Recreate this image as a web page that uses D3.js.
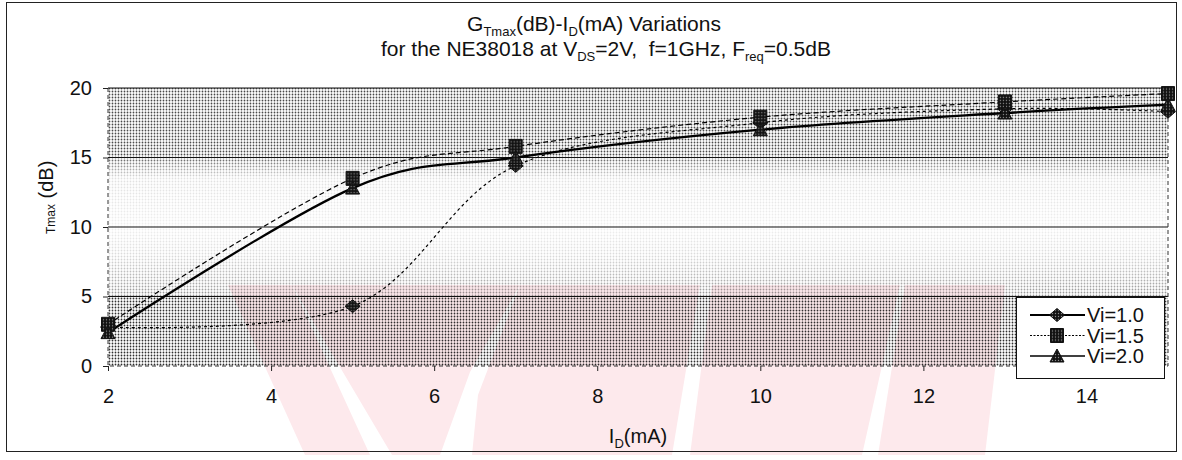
<!DOCTYPE html>
<html>
<head>
<meta charset="utf-8">
<script src="https://cdn.jsdelivr.net/npm/d3@7"></script>
<style>
  html, body { margin: 0; padding: 0; background: #fff; }
  svg { display: block; font-family: Arial, "Liberation Sans", sans-serif; }
</style>
</head>
<body>
<svg id="chart" width="1182" height="460"></svg>
<script>
// Drain current I_D (mA) at which the gain was evaluated
const currents = [2, 5, 7, 10, 13, 15];
// G_Tmax (dB) for each input voltage setting
const gainVi10 = [2.8, 4.3, 14.4, 17.5, 18.5, 18.3];
const gainVi15 = [3.0, 13.5, 15.8, 17.9, 19.0, 19.6];
const gainVi20 = [2.4, 12.8, 15.0, 17.0, 18.2, 18.8];
const seriesNames = ["Vi=1.0", "Vi=1.5", "Vi=2.0"];
const xTicks = [2, 4, 6, 8, 10, 12, 14];
const yTicks = [0, 5, 10, 15, 20];

const svg = d3.select("#chart");
const plot = { left: 108, right: 1168, top: 88, bottom: 366 };

const x = d3.scaleLinear().domain([2, 15]).range([plot.left, plot.right]);
const y = d3.scaleLinear().domain([0, 20]).range([plot.bottom, plot.top]);

const defs = svg.append("defs");

// halftone dots used for the plot-area shading
const dots = defs.append("pattern").attr("id", "halftone")
  .attr("patternUnits", "userSpaceOnUse").attr("width", 3).attr("height", 3);
dots.append("circle").attr("cx", 1.5).attr("cy", 1.5).attr("r", 0.9).attr("fill", "#000");

// density of the shading from top (20 dB) to bottom (0 dB)
const density = [
  [20, 0.72], [15.2, 0.7], [14.5, 0.45], [13.5, 0.12], [10, 0.06],
  [8, 0.14], [6, 0.32], [5.05, 0.42], [4.95, 0.8], [0, 0.82]
];
const grad = defs.append("linearGradient").attr("id", "densityGrad")
  .attr("x1", 0).attr("y1", 0).attr("x2", 0).attr("y2", 1);
density.forEach(([v, a]) => {
  grad.append("stop").attr("offset", (20 - v) / 20)
    .attr("stop-color", "#fff").attr("stop-opacity", a);
});
const mask = defs.append("mask").attr("id", "densityMask")
  .attr("maskUnits", "userSpaceOnUse");
mask.append("rect").attr("x", plot.left).attr("y", plot.top)
  .attr("width", plot.right - plot.left).attr("height", plot.bottom - plot.top)
  .attr("fill", "url(#densityGrad)");

// dark speckled fill for the markers
const mt = defs.append("pattern").attr("id", "markTex")
  .attr("patternUnits", "userSpaceOnUse").attr("width", 3).attr("height", 3);
mt.append("rect").attr("width", 3).attr("height", 3).attr("fill", "#111");
mt.append("circle").attr("cx", 1.5).attr("cy", 1.5).attr("r", 0.7).attr("fill", "#8a8a8a");

// faint pink watermark stripes behind the chart
const pink = "#fde9ec";
const wm = svg.append("g").attr("class", "watermark");
const wmShapes = [
  [[228, 285], [292, 285], [370, 455], [305, 455]],
  [[292, 285], [520, 285], [470, 372], [440, 455], [392, 455], [318, 330]],
  [[520, 285], [700, 285], [672, 455], [472, 455], [478, 395]],
  [[712, 285], [900, 285], [862, 455], [690, 455]],
  [[905, 285], [1005, 285], [985, 455], [878, 455]]
];
wm.selectAll("polygon").data(wmShapes).join("polygon")
  .attr("points", d => d.map(p => p.join(",")).join(" "))
  .attr("fill", pink);

// plot-area shading
svg.append("rect")
  .attr("x", plot.left).attr("y", plot.top)
  .attr("width", plot.right - plot.left).attr("height", plot.bottom - plot.top)
  .attr("fill", "url(#halftone)").attr("mask", "url(#densityMask)");

// horizontal gridlines
svg.append("g").selectAll("line").data(yTicks.filter(v => v > 0)).join("line")
  .attr("x1", plot.left).attr("x2", plot.right)
  .attr("y1", d => y(d)).attr("y2", d => y(d))
  .attr("stroke", "#111").attr("stroke-width", 1.2);

// dashed plot-area border (left, right, bottom)
const border = d3.path();
border.moveTo(plot.left, plot.top); border.lineTo(plot.left, plot.bottom);
border.lineTo(plot.right, plot.bottom); border.lineTo(plot.right, plot.top);
svg.append("path").attr("d", border.toString())
  .attr("fill", "none").attr("stroke", "#333").attr("stroke-width", 1)
  .attr("stroke-dasharray", "4,3");

// axes
const xAxis = svg.append("g").attr("transform", `translate(0,${plot.bottom})`)
  .call(d3.axisBottom(x).tickValues(xTicks).tickSizeInner(5).tickSizeOuter(0).tickPadding(18));
const yAxis = svg.append("g").attr("transform", `translate(${plot.left},0)`)
  .call(d3.axisLeft(y).tickValues(yTicks).tickSizeInner(5).tickSizeOuter(0).tickPadding(11));
[xAxis, yAxis].forEach(a => {
  a.select(".domain").remove();
  a.selectAll(".tick line").attr("stroke", "#222");
  a.selectAll(".tick text").attr("fill", "#111")
    .style("font-family", "Arial, 'Liberation Sans', sans-serif").style("font-size", "20px");
});

// series
const series = [
  { name: seriesNames[0], values: gainVi10, dash: "3,3", width: 1.2, shape: "diamond",
    legendDash: null, legendWidth: 2 },
  { name: seriesNames[1], values: gainVi15, dash: "5,3", width: 1.2, shape: "square",
    legendDash: "2,1.5", legendWidth: 1.2 },
  { name: seriesNames[2], values: gainVi20, dash: null, width: 2.3, shape: "triangle",
    legendDash: null, legendWidth: 1.5 }
];

const shapePath = {
  diamond: "M0,-6.5L7.5,0L0,6.5L-7.5,0Z",
  square: "M-6.5,-7H6.5V7H-6.5Z",
  triangle: "M0,-7L7,6H-7Z"
};

const line = d3.line()
  .x((d, i) => x(currents[i]))
  .y(d => y(d))
  .curve(d3.curveCatmullRom.alpha(0));

series.forEach(s => {
  svg.append("path").datum(s.values)
    .attr("d", line)
    .attr("fill", "none").attr("stroke", "#000")
    .attr("stroke-width", s.width)
    .attr("stroke-dasharray", s.dash);
});
series.forEach(s => {
  svg.append("g").selectAll("path").data(s.values).join("path")
    .attr("transform", (d, i) => `translate(${x(currents[i])},${y(d)})`)
    .attr("d", shapePath[s.shape])
    .attr("fill", "url(#markTex)").attr("stroke", "#111").attr("stroke-width", 1);
});

// legend
const lg = svg.append("g");
lg.append("rect").attr("x", 1016.5).attr("y", 297.5).attr("width", 148).attr("height", 81)
  .attr("fill", "#fff").attr("stroke", "#111").attr("stroke-width", 1);
series.forEach((s, i) => {
  const cy = 315 + i * 20.5;
  lg.append("line").attr("x1", 1030).attr("x2", 1085).attr("y1", cy).attr("y2", cy)
    .attr("stroke", "#000").attr("stroke-width", s.legendWidth)
    .attr("stroke-dasharray", s.legendDash);
  lg.append("path").attr("transform", `translate(1057,${cy})`)
    .attr("d", shapePath[s.shape])
    .attr("fill", "url(#markTex)").attr("stroke", "#111");
  lg.append("text").attr("x", 1087).attr("y", cy).attr("dy", "0.36em")
    .attr("font-size", 20).attr("fill", "#111").text(s.name);
});

// titles
const t1 = svg.append("text").attr("x", 594).attr("y", 31)
  .attr("text-anchor", "middle").attr("font-size", 21).attr("fill", "#111");
t1.append("tspan").text("G");
t1.append("tspan").attr("font-size", 13).attr("dy", 5).text("Tmax");
t1.append("tspan").attr("dy", -5).text("(dB)-I");
t1.append("tspan").attr("font-size", 13).attr("dy", 5).text("D");
t1.append("tspan").attr("dy", -5).text("(mA) Variations");

const t2 = svg.append("text").attr("x", 606).attr("y", 56)
  .attr("text-anchor", "middle").attr("font-size", 21).attr("fill", "#111")
  .attr("xml:space", "preserve");
t2.append("tspan").text("for the NE38018 at V");
t2.append("tspan").attr("font-size", 13).attr("dy", 5).text("DS");
t2.append("tspan").attr("dy", -5).text("=2V,  f=1GHz, F");
t2.append("tspan").attr("font-size", 13).attr("dy", 5).text("req");
t2.append("tspan").attr("dy", -5).text("=0.5dB");

// x-axis title
const xt = svg.append("text").attr("x", (plot.left + plot.right) / 2).attr("y", 443)
  .attr("text-anchor", "middle").attr("font-size", 20).attr("fill", "#111");
xt.append("tspan").text("I");
xt.append("tspan").attr("font-size", 13).attr("dy", 5).text("D");
xt.append("tspan").attr("dy", -5).text("(mA)");

// y-axis title
const yt = svg.append("text").attr("transform", "translate(53,234) rotate(-90)")
  .attr("text-anchor", "start").attr("font-size", 20).attr("fill", "#111");
yt.append("tspan").attr("font-size", 12).attr("dy", 2).text("Tmax");
yt.append("tspan").attr("dy", -2).text(" (dB)");

// outer frame
svg.append("rect").attr("x", 6.5).attr("y", 2.5).attr("width", 1170).attr("height", 449)
  .attr("fill", "none").attr("stroke", "#222").attr("stroke-width", 1);
</script>
</body>
</html>
